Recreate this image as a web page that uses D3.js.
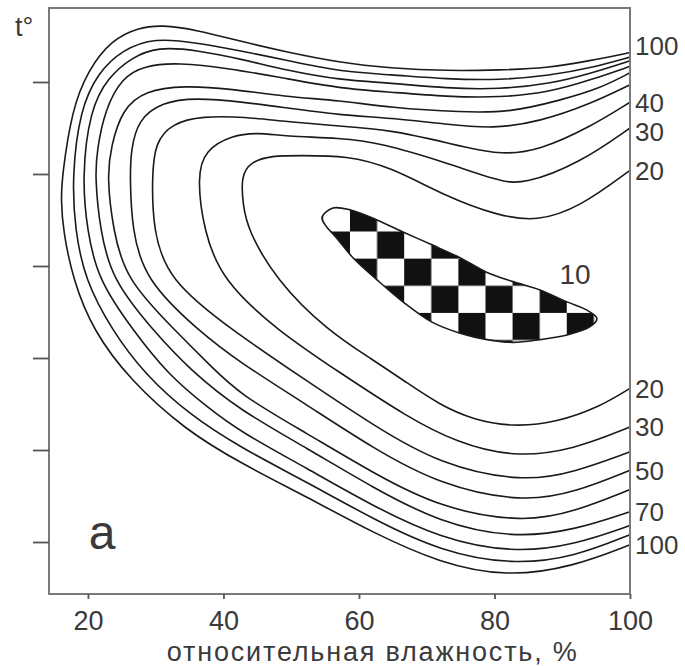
<!DOCTYPE html>
<html>
<head>
<meta charset="utf-8">
<script src="https://cdn.jsdelivr.net/npm/d3@7"></script>
<style>
  body { margin: 0; background: #fff; }
  svg text { font-family: "Liberation Sans", Arial, sans-serif; fill: #3a3a3a; }
</style>
</head>
<body>
<div class="canvas"></div>
<script>
// isolines: [relative humidity %, t (grid units)]
const iso100 = [[100, 6.32], [94.10, 6.23], [87.75, 6.15], [80.81, 6.13], [72.99, 6.12], [64.58, 6.15], [57.20, 6.21], [49.08, 6.33], [43.18, 6.43], [35.80, 6.57], [30.93, 6.62], [27.39, 6.59], [23.55, 6.46], [20.00, 6.13], [17.64, 5.70], [16.17, 4.97], [16.03, 4.72], [16.32, 4.39], [17.79, 3.85], [20.74, 3.30], [26.20, 2.76], [34.32, 2.22], [42.44, 1.86], [52.33, 1.49], [62.06, 1.10], [71.96, 0.77], [81.85, 0.62], [91.58, 0.73], [100, 0.97]];
const iso90 = [[100, 6.27], [94.10, 6.15], [88.19, 6.07], [80.81, 6.02], [72.99, 6.03], [64.58, 6.08], [57.20, 6.11], [49.08, 6.24], [43.18, 6.33], [35.80, 6.43], [29.90, 6.48], [25.03, 6.35], [21.48, 6.10], [18.83, 5.70], [17.64, 4.97], [18.09, 4.39], [19.56, 3.85], [23.55, 3.30], [28.42, 2.82], [35.06, 2.38], [42.44, 2.03], [52.33, 1.65], [62.06, 1.25], [71.96, 0.90], [82.73, 0.75], [91.88, 0.84], [100, 1.08]];
const iso80 = [[100, 6.23], [94.10, 6.09], [88.19, 5.98], [80.81, 5.92], [72.99, 5.93], [64.58, 5.99], [57.20, 6.02], [49.08, 6.13], [43.18, 6.24], [35.80, 6.35], [30.34, 6.38], [26.50, 6.27], [22.96, 6.05], [20.30, 5.70], [19.12, 4.97], [19.86, 4.39], [21.48, 3.85], [26.65, 3.30], [31.81, 2.82], [37.72, 2.46], [42.44, 2.20], [52.33, 1.80], [62.06, 1.39], [71.96, 1.04], [82.73, 0.88], [91.88, 0.97], [100, 1.18]];
const iso70 = [[100, 6.17], [94.10, 6.02], [88.19, 5.89], [80.81, 5.83], [72.99, 5.84], [64.58, 5.89], [57.20, 5.93], [49.08, 6.04], [40.67, 6.15], [33.29, 6.21], [28.42, 6.18], [25.03, 6.05], [22.51, 5.70], [21.33, 5.26], [21.04, 4.97], [21.78, 4.39], [23.55, 3.85], [29.60, 3.30], [35.06, 2.87], [42.44, 2.43], [52.33, 2.02], [62.06, 1.59], [71.96, 1.21], [82.73, 1.04], [91.88, 1.13], [100, 1.33]];
const iso60 = [[100, 6.10], [95.57, 5.93], [89.67, 5.80], [82.29, 5.67], [75.35, 5.67], [64.58, 5.72], [57.20, 5.80], [49.08, 5.84], [40.67, 5.93], [34.32, 5.96], [28.42, 5.91], [25.03, 5.70], [23.40, 5.30], [22.81, 4.97], [23.70, 4.39], [25.61, 3.85], [32.85, 3.30], [38.01, 2.92], [42.44, 2.60], [52.33, 2.18], [62.06, 1.75], [71.96, 1.37], [84.21, 1.21], [91.88, 1.33], [100, 1.57]];
const iso50 = [[100, 5.97], [94.10, 5.76], [86.71, 5.57], [79.78, 5.49], [72.99, 5.54], [64.58, 5.61], [57.20, 5.64], [49.08, 5.72], [43.18, 5.78], [35.80, 5.83], [30.93, 5.78], [27.39, 5.59], [26.35, 5.26], [26.20, 4.97], [26.50, 4.39], [28.42, 3.85], [36.24, 3.30], [42.44, 2.95], [52.33, 2.49], [62.06, 2.02], [71.96, 1.62], [84.21, 1.43], [91.88, 1.54], [100, 1.78]];
const iso40 = [[100, 5.78], [94.10, 5.51], [86.71, 5.26], [80.81, 5.20], [72.99, 5.34], [64.58, 5.48], [57.20, 5.52], [49.08, 5.57], [43.18, 5.62], [36.83, 5.63], [32.40, 5.55], [29.90, 5.34], [29.45, 4.97], [29.60, 4.39], [31.81, 3.85], [41.26, 3.30], [52.33, 2.75], [62.06, 2.27], [71.96, 1.84], [84.21, 1.65], [91.88, 1.76], [100, 1.98]];
const iso30 = [[100, 5.50], [92.62, 5.12], [84.21, 4.88], [80.37, 4.93], [72.99, 5.12], [63.10, 5.34], [57.20, 5.39], [49.08, 5.41], [45.10, 5.45], [41.26, 5.42], [37.27, 5.26], [36.09, 4.97], [37.13, 4.37], [39.78, 3.85], [47.90, 3.30], [57.20, 2.84], [67.09, 2.36], [74.47, 2.08], [82.73, 1.92], [91.58, 2.00], [100, 2.25]];
const iso20 = [[100, 5.04], [92.62, 4.64], [86.27, 4.48], [80.37, 4.55], [72.99, 4.75], [64.58, 5.08], [58.23, 5.20], [51.29, 5.20], [47.16, 5.20], [43.91, 5.13], [42.59, 4.97], [42.88, 4.66], [43.62, 4.39], [47.75, 3.85], [55.28, 3.30], [62.06, 2.98], [67.09, 2.73], [71.96, 2.49], [76.83, 2.33], [82.73, 2.25], [89.22, 2.30], [95.57, 2.47], [100, 2.67]];
// closed 10 zone (checkered)
const iso10 = [[54.54, 4.53], [56.16, 4.63], [58.67, 4.61], [62.66, 4.50], [66.49, 4.37], [70.77, 4.23], [74.91, 4.09], [78.89, 3.93], [82.73, 3.83], [86.71, 3.74], [90.70, 3.61], [93.65, 3.52], [95.12, 3.43], [94.10, 3.34], [90.70, 3.25], [86.71, 3.20], [82.73, 3.17], [78.89, 3.20], [74.91, 3.27], [70.77, 3.39], [66.49, 3.61], [62.66, 3.85], [59.11, 4.09], [56.75, 4.30], [54.98, 4.45]];

const levels = [20, 30, 40, 50, 60, 70, 80, 90, 100];
const isolines = [iso20, iso30, iso40, iso50, iso60, iso70, iso80, iso90, iso100];
const topLabels = [100, 40, 30, 20];
const bottomLabels = [20, 30, 50, 70, 100];
const humidityTicks = [20, 40, 60, 80, 100];
const tempTicks = [1, 2, 3, 4, 5, 6];

const margin = { top: 8, right: 55, bottom: 72, left: 49 };
const graphWidth = 685 - (margin.left + margin.right);
const graphHeight = 666 - (margin.top + margin.bottom);

const svg = d3.select('.canvas')
  .append('svg')
    .attr('width', 685)
    .attr('height', 666);

const graph = svg.append('g')
  .attr('transform', `translate(${margin.left}, ${margin.top})`);

const x = d3.scaleLinear().domain([14.25, 100]).range([0, graphWidth]);
const y = d3.scaleLinear().domain([0.435, 6.804]).range([graphHeight, 0]);

// checker fill for the 10 zone, one cell = 4 % by 0.295 units
const cellW = x(4) - x(0);
const cellH = y(0) - y(0.295);
const pat = svg.append('defs').append('pattern')
  .attr('id', 'checker')
  .attr('patternUnits', 'userSpaceOnUse')
  .attr('x', x(58.67))
  .attr('y', y(4.67))
  .attr('width', cellW * 2)
  .attr('height', cellH * 2);
pat.append('rect').attr('width', cellW * 2).attr('height', cellH * 2).attr('fill', '#fff');
pat.append('rect').attr('width', cellW).attr('height', cellH).attr('fill', '#111');
pat.append('rect').attr('x', cellW).attr('y', cellH).attr('width', cellW).attr('height', cellH).attr('fill', '#111');

// smooth spline through the read points
const line = d3.line()
  .x(d => x(d[0]))
  .y(d => y(d[1]))
  .curve(d3.curveBasis);

const closedLine = d3.line()
  .x(d => x(d[0]))
  .y(d => y(d[1]))
  .curve(d3.curveCatmullRomClosed.alpha(0.5));

graph.selectAll('path.iso')
  .data(isolines)
  .enter()
  .append('path')
    .attr('class', 'iso')
    .attr('d', line)
    .attr('fill', 'none')
    .attr('stroke', '#1a1a1a')
    .attr('stroke-width', 1.6);

graph.append('path')
  .datum(iso10)
  .attr('d', closedLine)
  .attr('fill', 'url(#checker)')
  .attr('stroke', '#1a1a1a')
  .attr('stroke-width', 1.6);

// frame
graph.append('rect')
  .attr('width', graphWidth)
  .attr('height', graphHeight)
  .attr('fill', 'none')
  .attr('stroke', '#7a7a7a')
  .attr('stroke-width', 2);

// axes
const xAxis = d3.axisBottom(x)
  .tickValues(humidityTicks)
  .tickSize(5)
  .tickPadding(12);
const yAxis = d3.axisLeft(y)
  .tickValues(tempTicks)
  .tickSize(16)
  .tickFormat('');

const xAxisGroup = graph.append('g')
  .attr('transform', `translate(0, ${graphHeight})`)
  .call(xAxis);
const yAxisGroup = graph.append('g').call(yAxis);

[xAxisGroup, yAxisGroup].forEach(g => {
  g.select('.domain').remove();
  g.selectAll('line').attr('stroke', '#555').attr('stroke-width', 1.8);
});
xAxisGroup.selectAll('text')
  .style('font-size', '27px')
  .attr('fill', '#3a3a3a');

// level labels at the right edge
const levelEnd = (lev, which) => {
  const pts = isolines[levels.indexOf(lev)];
  return which === 'top' ? pts[0][1] : pts[pts.length - 1][1];
};
const topNudge = { 100: -7, 30: 4 };

graph.selectAll('text.toplab')
  .data(topLabels)
  .enter()
  .append('text')
    .attr('class', 'toplab')
    .attr('x', graphWidth + 5)
    .attr('y', d => y(levelEnd(d, 'top')) + (topNudge[d] || 0))
    .attr('dy', '0.36em')
    .style('font-size', '26px')
    .text(d => d);

graph.selectAll('text.botlab')
  .data(bottomLabels)
  .enter()
  .append('text')
    .attr('class', 'botlab')
    .attr('x', graphWidth + 5)
    .attr('y', d => y(levelEnd(d, 'bottom')))
    .attr('dy', '0.36em')
    .style('font-size', '26px')
    .text(d => d);

// label of the checkered zone
graph.append('text')
  .attr('x', x(89.6))
  .attr('y', y(3.91))
  .attr('dy', '0.36em')
  .style('font-size', '28px')
  .text('10');

// panel letter
graph.append('text')
  .attr('x', x(20.1))
  .attr('y', y(0.92))
  .style('font-size', '48px')
  .text('а');

// axis titles
svg.append('text')
  .attr('x', 15)
  .attr('y', 36)
  .style('font-size', '27px')
  .text('t°');

svg.append('text')
  .attr('x', margin.left + x(61.9))
  .attr('y', 661)
  .attr('text-anchor', 'middle')
  .attr('textLength', 410)
  .attr('lengthAdjust', 'spacing')
  .style('font-size', '27px')
  .text('относительная влажность, %');
</script>
</body>
</html>
